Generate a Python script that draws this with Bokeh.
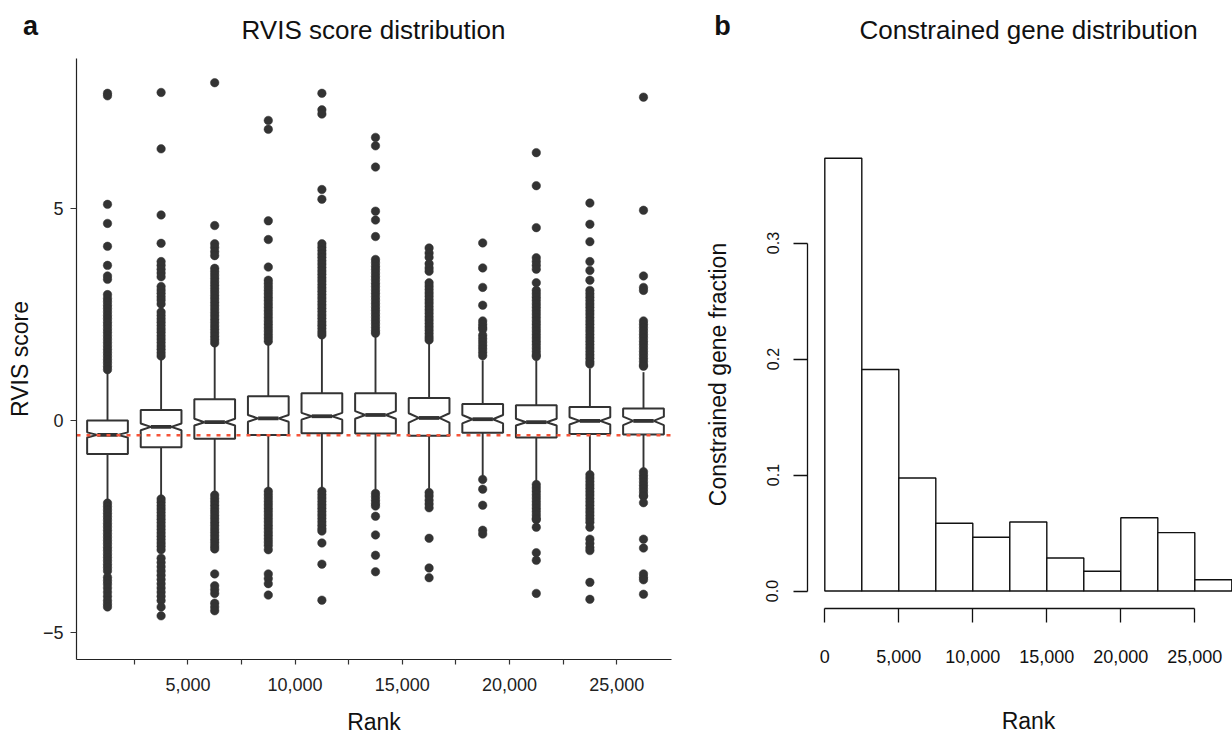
import math
from bokeh.plotting import figure
from bokeh.layouts import row
from bokeh.models import Range1d, FixedTicker, Label
from bokeh.embed import file_html
from bokeh.resources import INLINE

# ---------------- data: panel a (RVIS score by rank bin) ----------------
bin_centers = [1250, 3750, 6250, 8750, 11250, 13750, 16250, 18750, 21250, 23750, 26250]
q1 = [-0.79, -0.63, -0.43, -0.34, -0.30, -0.31, -0.36, -0.29, -0.40, -0.32, -0.33]
medians = [-0.34, -0.15, -0.04, 0.05, 0.10, 0.13, 0.06, 0.03, -0.04, -0.01, -0.01]
q3 = [0.0, 0.25, 0.50, 0.57, 0.64, 0.64, 0.53, 0.39, 0.36, 0.32, 0.28]
whisk_lo = [-1.93, -1.83, -1.74, -1.65, -1.65, -1.70, -1.61, -1.33, -1.47, -1.24, -1.19]
whisk_hi = [1.14, 1.46, 1.78, 1.83, 1.97, 2.01, 1.83, 1.42, 1.42, 1.23, 1.14]
notch_half = [0.06, 0.08, 0.08, 0.08, 0.08, 0.09, 0.11, 0.10, 0.08, 0.085, 0.10]
outliers = [
    [7.72, 7.66, 5.10, 4.65, 4.11, 3.66, 3.41, 3.33, 2.97, 2.88, 2.80, 2.72, 2.64, 2.56, 2.48,
     2.40, 2.32, 2.24, 2.16, 2.08, 2.00, 1.92, 1.84, 1.76, 1.68, 1.60, 1.52, 1.44, 1.36, 1.28, 1.20,
     -1.95, -2.03, -2.11, -2.19, -2.27, -2.35, -2.43, -2.51, -2.59, -2.67, -2.75, -2.83, -2.91,
     -2.99, -3.07, -3.15, -3.23, -3.31, -3.39, -3.47, -3.55, -3.70, -3.78, -3.86, -3.95, -4.05,
     -4.15, -4.25, -4.33, -4.40],
    [7.74, 6.41, 4.85, 4.18, 3.75, 3.66, 3.57, 3.48, 3.39, 3.16, 3.08, 3.00, 2.92, 2.84, 2.75,
     2.56, 2.48, 2.40, 2.32, 2.24, 2.16, 2.08, 2.00, 1.92, 1.84, 1.76, 1.68, 1.60, 1.52,
     -1.85, -1.93, -2.01, -2.09, -2.17, -2.25, -2.33, -2.41, -2.49, -2.57, -2.65, -2.73, -2.81,
     -2.89, -2.97, -3.05, -3.25, -3.35, -3.45, -3.55, -3.65, -3.75, -3.85, -3.95, -4.05, -4.15,
     -4.25, -4.40, -4.61],
    [7.97, 4.60, 4.17, 4.08, 3.98, 3.89, 3.59, 3.51, 3.43, 3.35, 3.27, 3.19, 3.11, 3.03, 2.95,
     2.87, 2.79, 2.71, 2.63, 2.55, 2.47, 2.39, 2.31, 2.23, 2.15, 2.07, 1.99, 1.91, 1.83,
     -1.76, -1.84, -1.92, -2.00, -2.08, -2.16, -2.24, -2.32, -2.40, -2.48, -2.56, -2.64, -2.72,
     -2.80, -2.88, -2.96, -3.03, -3.62, -3.90, -3.99, -4.08, -4.31, -4.40, -4.49],
    [7.08, 6.87, 4.71, 4.27, 3.62, 3.31, 3.23, 3.15, 3.07, 2.99, 2.91, 2.83, 2.75, 2.67, 2.59,
     2.51, 2.43, 2.35, 2.27, 2.19, 2.11, 2.03, 1.95, 1.87,
     -1.67, -1.75, -1.83, -1.91, -1.99, -2.07, -2.15, -2.23, -2.31, -2.39, -2.47, -2.55, -2.63,
     -2.71, -2.79, -2.87, -2.95, -3.05, -3.62, -3.73, -3.85, -4.12],
    [7.72, 7.33, 7.23, 5.45, 5.22, 4.17, 4.09, 4.01, 3.93, 3.85, 3.77, 3.69, 3.61, 3.53, 3.45,
     3.37, 3.29, 3.21, 3.13, 3.05, 2.97, 2.89, 2.81, 2.73, 2.65, 2.57, 2.49, 2.41, 2.33, 2.25,
     2.17, 2.09, 2.02,
     -1.67, -1.75, -1.83, -1.91, -1.99, -2.07, -2.15, -2.23, -2.31, -2.39, -2.47, -2.55, -2.61,
     -2.89, -3.39, -4.24],
    [6.68, 6.48, 5.98, 4.94, 4.73, 4.34, 3.80, 3.72, 3.64, 3.56, 3.48, 3.40, 3.32, 3.24, 3.16,
     3.08, 3.00, 2.92, 2.84, 2.76, 2.68, 2.60, 2.52, 2.44, 2.36, 2.28, 2.20, 2.12, 2.06,
     -1.72, -1.80, -1.88, -1.96, -2.02, -2.26, -2.70, -3.18, -3.57],
    [4.07, 3.95, 3.85, 3.70, 3.60, 3.52, 3.25, 3.17, 3.09, 3.01, 2.93, 2.85, 2.77, 2.69, 2.61,
     2.53, 2.45, 2.37, 2.29, 2.21, 2.13, 2.05, 1.97, 1.90,
     -1.70, -1.78, -1.88, -1.97, -2.06, -2.78, -3.48, -3.71],
    [4.19, 3.60, 3.14, 2.72, 2.35, 2.27, 2.20, 2.15, 2.01, 1.93, 1.85, 1.77, 1.69, 1.61, 1.53,
     -1.39, -1.62, -2.00, -2.59, -2.68],
    [6.32, 5.54, 4.55, 3.84, 3.75, 3.66, 3.57, 3.25, 3.07, 2.99, 2.91, 2.83, 2.75, 2.67, 2.59,
     2.51, 2.43, 2.35, 2.27, 2.19, 2.11, 2.03, 1.95, 1.87, 1.79, 1.71, 1.63, 1.55, 1.51,
     -1.51, -1.59, -1.67, -1.75, -1.83, -1.91, -1.99, -2.07, -2.15, -2.23, -2.31, -2.34, -2.52,
     -3.12, -3.30, -4.08],
    [5.13, 4.63, 4.22, 3.75, 3.54, 3.31, 3.07, 2.99, 2.91, 2.83, 2.75, 2.67, 2.59, 2.51, 2.43,
     2.35, 2.27, 2.19, 2.11, 2.03, 1.95, 1.87, 1.79, 1.71, 1.63, 1.55, 1.47, 1.39, 1.33,
     -1.28, -1.36, -1.44, -1.52, -1.60, -1.68, -1.76, -1.84, -1.92, -2.00, -2.08, -2.16, -2.24,
     -2.32, -2.40, -2.52, -2.80, -2.90, -3.00, -3.07, -3.82, -4.22],
    [7.63, 4.96, 3.41, 3.14, 3.07, 2.35, 2.27, 2.19, 2.11, 2.03, 1.95, 1.87, 1.79, 1.71, 1.63,
     1.55, 1.47, 1.39, 1.31, 1.28,
     -1.21, -1.29, -1.37, -1.45, -1.53, -1.61, -1.69, -1.77, -1.79, -1.94, -2.80, -3.01, -3.62,
     -3.70, -3.76, -4.10],
]
ref_line = -0.35
box_width = 1900
rank_ticks = [2500, 5000, 7500, 10000, 12500, 15000, 17500, 20000, 22500, 25000]
rank_tick_labels = ["", "5,000", "", "10,000", "", "15,000", "", "20,000", "", "25,000"]
score_ticks = [-5, 0, 5]
score_tick_labels = ["\u22125", "0", "5"]

# ---------------- data: panel b (constrained gene fraction) ----------------
hist_edges = [0, 2500, 5000, 7500, 10000, 12500, 15000, 17500, 20000, 22500, 25000, 27500]
hist_fraction = [0.373, 0.191, 0.0974, 0.0584, 0.0463, 0.0595, 0.0284, 0.0170, 0.0632, 0.0503, 0.0097]
hist_ticks = [0, 5000, 10000, 15000, 20000, 25000]
hist_tick_labels = ["0", "5,000", "10,000", "15,000", "20,000", "25,000"]
frac_ticks = [0.0, 0.1, 0.2, 0.3]
frac_tick_labels = ["0.0", "0.1", "0.2", "0.3"]

FONT = "Liberation Sans"
DARK = "#333333"
H = 733

# axis extents (data units) of panel a's panel box
a_x_lo, a_x_hi = -196, 27560
a_y_lo, a_y_hi = -5.64, 8.54
# axis positions of panel b (R style detached axes)
b_x_axis_at = -0.0151
b_y_axis_at = -1169


def base_fig(width, x_range, y_range):
    p = figure(width=width, height=H, output_backend="svg", toolbar_location=None,
               x_range=x_range, y_range=y_range,
               min_border_left=0, min_border_right=0, min_border_top=0, min_border_bottom=0)
    p.title.visible = False
    p.grid.visible = False
    p.outline_line_color = None
    p.background_fill_color = "white"
    p.border_fill_color = "white"
    return p


def screen_text(p, x, y, text, size, bold=False, angle=0.0):
    p.add_layout(Label(x=x, y=H - y, x_units="screen", y_units="screen", text=text,
                       text_font=FONT, text_font_size=size,
                       text_font_style="bold" if bold else "normal", angle=angle,
                       text_align="center", text_baseline="middle", text_color="#111111"))


# ================= panel a =================
p1 = base_fig(700, Range1d(-3741, 28909), Range1d(-7.386, 9.910))

p1.segment(x0=bin_centers, y0=q3, x1=bin_centers, y1=whisk_hi, line_color=DARK, line_width=1.9)
p1.segment(x0=bin_centers, y0=q1, x1=bin_centers, y1=whisk_lo, line_color=DARK, line_width=1.9)

ox, oy = [], []
for c, vals in zip(bin_centers, outliers):
    for v in vals:
        ox.append(c)
        oy.append(v)
p1.scatter(x=ox, y=oy, size=8.5, fill_color=DARK, line_color=DARK, line_width=0.5)

xs, ys = [], []
for c, a, m, b, n in zip(bin_centers, q1, medians, q3, notch_half):
    hw = box_width / 2
    qw = box_width / 4
    xs.append([c - hw, c - hw, c - qw, c - hw, c - hw, c + hw, c + hw, c + qw, c + hw, c + hw])
    ys.append([a, m - n, m, m + n, b, b, m + n, m, m - n, a])
p1.patches(xs=xs, ys=ys, fill_color="white", line_color=DARK, line_width=2.0)
p1.segment(x0=[c - box_width / 4 for c in bin_centers], y0=medians,
           x1=[c + box_width / 4 for c in bin_centers], y1=medians,
           line_color=DARK, line_width=3.8)

p1.segment(x0=[a_x_lo], y0=[ref_line], x1=[a_x_hi], y1=[ref_line],
           line_color="#F4553A", line_dash="4 6", line_width=2.6)

for ax in (p1.xaxis[0], p1.yaxis[0]):
    ax.axis_line_color = "#222222"
    ax.axis_line_width = 1.2
    ax.major_tick_line_color = DARK
    ax.major_tick_line_width = 1.2
    ax.major_tick_in = 0
    ax.minor_tick_line_color = None
    ax.major_label_text_font = FONT
    ax.major_label_text_font_size = "18px"
    ax.major_label_text_color = "#222222"
    ax.axis_label_text_font = FONT
    ax.axis_label_text_font_size = "23px"
    ax.axis_label_text_font_style = "normal"
    ax.axis_label_text_color = "#111111"

p1.xaxis.ticker = FixedTicker(ticks=rank_ticks)
p1.xaxis.major_label_overrides = dict(zip(rank_ticks, rank_tick_labels))
p1.xaxis.bounds = (a_x_lo, a_x_hi)
p1.xaxis.fixed_location = a_y_lo
p1.xaxis.major_tick_out = 5
p1.xaxis.major_label_standoff = 13
p1.xaxis.axis_label = "Rank"
p1.xaxis.axis_label_standoff = 15

p1.yaxis.ticker = FixedTicker(ticks=score_ticks)
p1.yaxis.major_label_overrides = dict(zip(score_ticks, score_tick_labels))
p1.yaxis.bounds = (a_y_lo, a_y_hi)
p1.yaxis.fixed_location = a_x_lo
p1.yaxis.major_tick_out = 6
p1.yaxis.major_label_standoff = 7
p1.yaxis.axis_label = "RVIS score"
p1.yaxis.axis_label_standoff = 7

screen_text(p1, 373, 29, "RVIS score distribution", "26px")
screen_text(p1, 30, 25, "a", "27px", bold=True)

# ================= panel b =================
p2 = base_fig(532, Range1d(-8399, 27547), Range1d(-0.12284, 0.50905))

p2.quad(left=hist_edges[:-1], right=hist_edges[1:], bottom=0, top=hist_fraction,
        fill_color="white", line_color="#111111", line_width=1.4)

for ax in (p2.xaxis[0], p2.yaxis[0]):
    ax.axis_line_color = "#111111"
    ax.axis_line_width = 1.3
    ax.major_tick_line_color = "#111111"
    ax.major_tick_line_width = 1.3
    ax.major_tick_in = 0
    ax.major_tick_out = 14
    ax.minor_tick_line_color = None
    ax.major_label_text_font = FONT
    ax.major_label_text_color = "#111111"

p2.xaxis.ticker = FixedTicker(ticks=hist_ticks)
p2.xaxis.major_label_overrides = dict(zip(hist_ticks, hist_tick_labels))
p2.xaxis.bounds = (hist_ticks[0], hist_ticks[-1])
p2.xaxis.fixed_location = b_x_axis_at
p2.xaxis.major_label_text_font_size = "18px"
p2.xaxis.major_label_standoff = 27

p2.yaxis.ticker = FixedTicker(ticks=frac_ticks)
p2.yaxis.major_label_overrides = dict(zip(frac_ticks, frac_tick_labels))
p2.yaxis.bounds = (frac_ticks[0], frac_ticks[-1])
p2.yaxis.fixed_location = b_y_axis_at
p2.yaxis.major_label_text_font_size = "16px"
p2.yaxis.major_label_orientation = "parallel"
p2.yaxis.major_label_standoff = 15

# R centres titles on the whole plot region (x 808..1248, y 140..608)
screen_text(p2, 328, 720, "Rank", "23px")
screen_text(p2, 17, 374, "Constrained gene fraction", "23px", angle=math.pi / 2)
screen_text(p2, 328, 29, "Constrained gene distribution", "26px")
screen_text(p2, 22, 25, "b", "27px", bold=True)

layout = row(p1, p2)
open("out.html", "w").write(file_html(layout, INLINE))
